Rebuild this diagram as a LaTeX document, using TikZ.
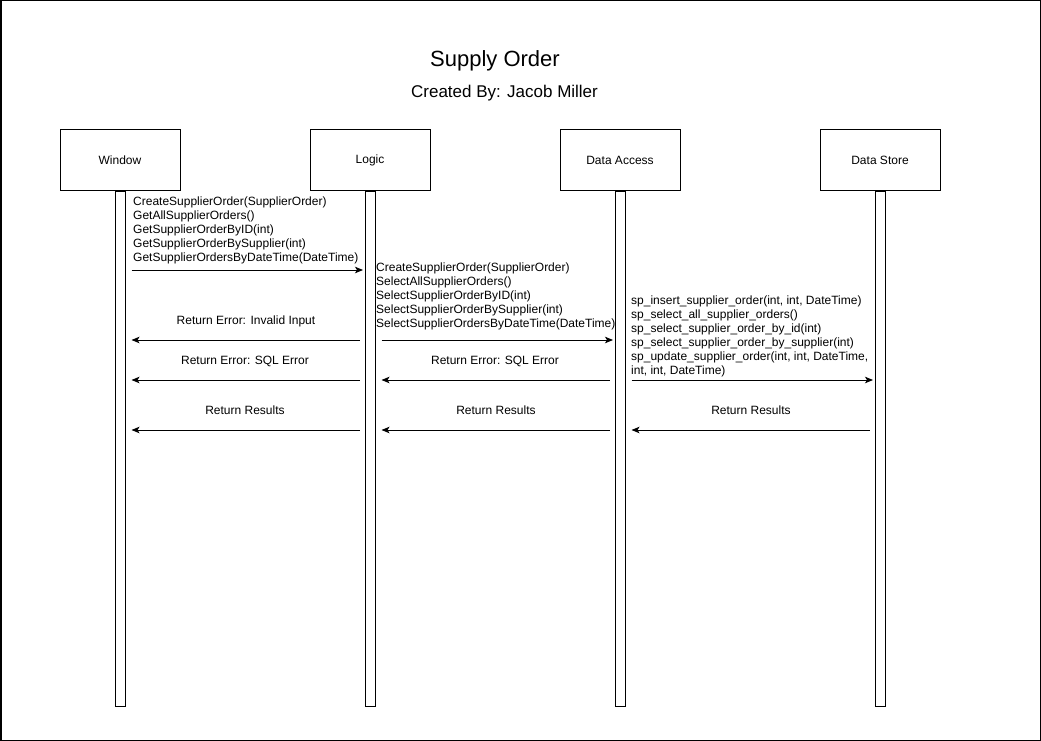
\documentclass[tikz,border=0pt]{standalone}
\usepackage{fontspec}
\setmainfont{Liberation Sans}
\usetikzlibrary{arrows.meta}
\begin{document}
\begin{tikzpicture}[x=1pt,y=-1pt,
  actor/.style={draw,line width=1pt,minimum width=120pt,minimum height=60pt,inner sep=0pt,font=\fontsize{12}{14}\selectfont},
  lifeline/.style={draw,line width=1pt,minimum width=10pt,minimum height=515pt,inner sep=0pt,anchor=north},
  tip/.style={-{Stealth[length=8pt,width=6.5pt,inset=2pt]}},
  fwd/.style={line width=1pt,tip,shorten <=6pt,shorten >=1.5pt},
  ret/.style={line width=1pt,tip,shorten <=5pt,shorten >=6pt},
  lbl/.style={font=\fontsize{12}{13.9}\selectfont,inner sep=0pt},
  grp/.style={lbl,align=left,anchor=south west}]
\useasboundingbox (0,0) rectangle (1041,741);
\draw[line width=1.5pt] (0.75,0.75) rectangle (1040.25,740.25);

\node[font=\fontsize{22}{26}\selectfont,anchor=base,inner sep=0pt] (title) at (495,67) {Supply Order};
\node[font=\fontsize{17}{20}\selectfont,anchor=base,inner sep=0pt] (sub) at (504.5,98) {Created By: Jacob Miller};

\node[actor] (win) at (120,160) {Window};
\node[actor] (log) at (370,160) {Logic};
\node[actor] (dac) at (620,160) {Data Access};
\node[actor] (dst) at (880,160) {Data Store};

\node[lifeline] (wl) at (win.south) {};
\node[lifeline] (ll) at (log.south) {};
\node[lifeline] (dal) at (dac.south) {};
\node[lifeline] (dsl) at (dst.south) {};

% calls
\draw[fwd] (wl.east |- 0,270) -- (ll.west |- 0,270);
\node[grp] (m1) at (133,264) {CreateSupplierOrder(SupplierOrder)\\GetAllSupplierOrders()\\GetSupplierOrderByID(int)\\GetSupplierOrderBySupplier(int)\\GetSupplierOrdersByDateTime(DateTime)};

\draw[fwd] (ll.east |- 0,340) -- (dal.west |- 0,340);
\node[grp] (m2) at (376,330.2) {CreateSupplierOrder(SupplierOrder)\\SelectAllSupplierOrders()\\SelectSupplierOrderByID(int)\\SelectSupplierOrderBySupplier(int)\\SelectSupplierOrdersByDateTime(DateTime)};

\draw[fwd] (dal.east |- 0,380) -- (dsl.west |- 0,380);
\node[grp] (m3) at (631,377) {sp\_insert\_supplier\_order(int, int, DateTime)\\sp\_select\_all\_supplier\_orders()\\sp\_select\_supplier\_order\_by\_id(int)\\sp\_select\_supplier\_order\_by\_supplier(int)\\sp\_update\_supplier\_order(int, int, DateTime,\\int, int, DateTime)};

% returns
\draw[ret] (ll.west |- 0,340) -- (wl.east |- 0,340);
\node[lbl,anchor=base] (r1) at (246,324.5) {Return Error: Invalid Input};

\draw[ret] (ll.west |- 0,380) -- (wl.east |- 0,380);
\node[lbl,anchor=base] (r2) at (245,364.7) {Return Error: SQL Error};

\draw[ret] (dal.west |- 0,380) -- (ll.east |- 0,380);
\node[lbl,anchor=base] (r3) at (495,364.7) {Return Error: SQL Error};

\draw[ret] (ll.west |- 0,430) -- (wl.east |- 0,430);
\node[lbl,anchor=base] (r4) at (245,414.4) {Return Results};

\draw[ret] (dal.west |- 0,430) -- (ll.east |- 0,430);
\node[lbl,anchor=base] (r5) at (496,414.4) {Return Results};

\draw[ret] (dsl.west |- 0,430) -- (dal.east |- 0,430);
\node[lbl,anchor=base] (r6) at (751,414.4) {Return Results};
\end{tikzpicture}
\end{document}
